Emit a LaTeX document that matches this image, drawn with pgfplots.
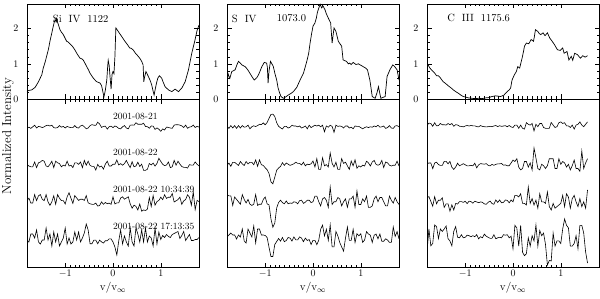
\documentclass[border=0pt]{standalone}
\usepackage{pgfplots}
\pgfplotsset{compat=1.18}
\usepackage{pgfplotstable}

\pgfplotstableread{
x a b c d
-1.80 -1.4 -0.4 0.4 -3
-1.76 -0.2 -2.0 2.8 -5
-1.72 -1.4 -2.8 -2.0 3
-1.68 0.2 -2.8 -2.0 3
-1.64 1.8 2.0 6.4 -1
-1.60 -1.0 -3.6 0.4 7
-1.56 0.6 1.2 5.2 -5
-1.52 0.2 2.0 6.4 -7
-1.48 -0.6 3.6 1.6 -3
-1.44 0.2 2.8 0.4 -3
-1.40 1.4 -2.0 6.4 9
-1.36 1.8 -2.8 -0.8 -3
-1.32 1.0 -0.4 -4.4 3
-1.28 1.8 2.8 -0.8 -9
-1.24 -0.6 -3.6 5.2 5
-1.20 -1.0 2.8 -3.2 -5
-1.16 -0.6 1.2 6.4 3
-1.12 1.4 0.4 2.8 -9
-1.08 -0.2 -2.8 0.4 -5
-1.04 0.6 -1.2 0.4 -1
-1.00 -1.0 -2.0 -3.0 9
-0.96 0.6 2.8 4.2 -7
-0.92 -0.2 -2.0 8.2 -1
-0.88 -0.6 -1.2 2.8 -7
-0.84 -0.6 -3.6 -2.4 -5
-0.80 1.4 1.2 5.4 5
-0.76 -0.6 1.2 3.0 -3
-0.72 -1.0 -0.4 0.6 5
-0.68 1.0 2.0 1.8 -5
-0.64 1.8 -3.6 1.8 -1
-0.60 0.2 3.6 0.6 4
-0.56 -1.8 -1.2 5.4 13
-0.52 -1.0 2.8 -1.8 7
-0.48 1.4 -1.4 -2.8 -6.7
-0.44 2.4 -2.4 -3.3 -6.7
-0.40 1.8 -2.3 -3.3 -3.1
-0.36 1.6 -6.0 -2.1 -3.1
-0.32 4.8 -0.4 -5.1 -6.7
-0.28 3.0 -3.1 -4.5 -3.1
-0.24 -0.4 -2.1 -0.9 -4.9
-0.20 0.6 -5.1 -3.3 -6.1
-0.16 0.8 -0.1 -1.5 -3.7
-0.12 -2.1 2.8 -2.7 -3.7
-0.08 0.3 -2.0 -2.1 -1.9
-0.04 0.8 -2.0 -3.3 -1.9
0.00 -0.6 -0.2 4.2 -5
0.04 1.0 -0.3 -3.0 -10
0.08 0.2 4.0 -1.8 -18
0.12 -1.4 -1.0 -1.8 -4
0.16 -1.8 0.4 3.0 7
0.20 0.2 -1.2 4.2 -7
0.24 1.4 0.4 1.8 1
0.28 -1.0 3.6 3.0 -5
0.32 -1.8 -0.4 4.2 -9
0.36 1.8 -3.6 -2.8 9
0.40 2.0 2.3 -7.2 -5
0.44 1.8 -2.8 -4.2 -9
0.48 4.3 -2.0 -5.4 9
0.52 2.8 1.8 -9.0 3
0.56 2.8 -2.4 -3.0 -5
0.60 2.7 -0.2 -10.2 7
0.64 3.8 -6.3 -9.0 -5
0.68 0.5 -6.3 -9.5 9
0.72 0.4 -5.3 -8.2 -5
0.76 -1.3 0.5 3.4 1
0.80 1.0 -0.9 -5.4 -1
0.84 0.9 0.9 5.4 -9
0.88 -2.4 -2.1 -4.2 9
0.92 -0.9 0.5 -0.6 -7
0.96 -2.2 5.8 0.6 5
1.00 -4.3 2.6 3.8 -2.5
1.04 -1.9 -0.3 1.4 1.5
1.08 -3.0 -1.6 6.2 -0.5
1.12 -0.1 -1.0 2.6 2.5
1.16 -0.4 2.0 3.8 0.5
1.20 -1.0 -3.6 3.8 -0.5
1.24 -1.3 -2.8 7.4 2.5
1.28 1.9 3.6 -1.0 3.5
1.32 2.3 -1.2 0.2 4.5
1.36 2.3 2.8 1.4 5.5
1.40 1.9 -0.1 3.8 -1.5
1.44 1.1 -2.5 -3.4 1.5
1.48 -0.5 -3.3 0.2 5.5
1.52 1.9 -3.3 1.4 -3.5
1.56 -1.3 -4.1 6.2 -0.5
1.60 -0.1 -0.6 3.8 2.5
1.64 0.3 -1.1 -4.2 -3.5
1.68 1.9 -1.1 9 -3.5
1.72 -0.5 2.1 -8.6 -2.5
1.76 0.7 -0.3 0.6 -2.5
1.80 -0.1 -1.9 -0.6 -0.5
}\siivres

\pgfplotstableread{
x a b c d
-1.80 1.0 -1.5 6.4 0
-1.76 -1.4 0.9 5.2 2
-1.72 1.4 -2.3 5.2 4
-1.68 -1.0 1.7 -4.4 2
-1.64 1.4 1.7 4.0 2
-1.60 -1.4 0.1 1.6 -2
-1.56 1.4 -1.5 -0.8 2
-1.52 -1.0 2.5 -3.2 0
-1.48 1.4 0.1 6.4 8
-1.44 -0.2 -1.5 1.6 -4
-1.40 0.2 2.5 -2.0 -6
-1.36 1.8 0.1 1.6 8
-1.32 -1.8 1.7 -3.2 4
-1.28 0.3 1.7 -4.4 0
-1.24 1.2 -0.7 -3.2 11
-1.20 0.5 4.1 6.4 -6
-1.16 1.4 -2.3 -4.4 8
-1.12 2.7 4.1 -3.2 8
-1.08 2.4 -0.7 -3.2 2
-1.04 4.1 -1.5 1.6 2
-1.00 2.2 -3.8 4.0 1.5
-0.96 4.5 -5.8 -2.9 -0.5
-0.92 8.7 -9.6 -3.9 -10.5
-0.88 12.5 -17.8 -17.9 -19.5
-0.84 12.9 -19.8 -26.3 -19.5
-0.80 10.5 -13.2 -22.1 -7.5
-0.76 4.3 -6.2 -6.9 -4.5
-0.72 0.7 -4.0 -1.5 -1.5
-0.68 -0.8 -2.4 0.8 -4.1
-0.64 -2.0 1.4 -1.6 -0.5
-0.60 0.6 -1.4 -2.8 -4.7
-0.56 0.6 1.0 0.0 -3.5
-0.52 -1.0 -0.2 -2.8 -0.5
-0.48 -0.2 -1.4 -2.0 -1.1
-0.44 1.8 -0.6 -2.4 -4.1
-0.40 1.0 0.2 -0.8 0.1
-0.36 1.0 1.8 -1.2 -2.9
-0.32 0.2 0.6 -2.8 -2.9
-0.28 1.0 0.6 0.4 0.1
-0.24 -1.0 -1.0 0.8 -1.1
-0.20 -0.2 1.8 -2.4 -4.7
-0.16 1.0 -1.8 -1.2 -1.1
-0.12 -1.8 -0.2 0.8 -3.5
-0.08 1.8 -0.6 0.8 -2.5
-0.04 -0.6 0.2 -1.6 -7.5
0.00 0.6 3.0 -0.7 -3.3
0.04 1.8 -3.0 4.9 -3.3
0.08 1.0 5.4 4.9 -7.7
0.12 1.8 -5.4 -0.7 -3.3
0.16 0.2 -5.4 -4.9 7.7
0.20 1.8 6.2 2.1 11.9
0.24 -4.8 -1.8 3.5 1.1
0.28 1.0 -0.6 0.7 7.7
0.32 -0.2 -3.0 -6.3 -3.3
0.36 1.8 11 14 12
0.40 0.6 0.6 -3.5 -9.9
0.44 -5.4 -3.0 -0.7 -9.9
0.48 1.8 1.8 -0.7 5.5
0.52 0.6 -5.4 3.5 1.1
0.56 1.0 -5.4 2.1 -5.5
0.60 0.6 5.4 -4.9 -9.9
0.64 -1.0 0.6 -0.7 -14.1
0.68 1.0 1.8 2.1 -1.1
0.72 1.0 -1.8 -6.3 9.9
0.76 -1.0 -5.4 2.1 -3.3
0.80 -0.2 3.0 2.1 -3.3
0.84 -1.8 -1.8 4.9 7.7
0.88 1.0 4.2 -6.3 -5.5
0.92 0.6 -4.2 10 3.3
0.96 0.6 -1.8 -3.5 1.1
1.00 -0.6 -3.0 -3.5 3.3
1.04 -1.8 -1.2 2.1 -5.4
1.08 -0.6 -2.0 -0.7 -3.0
1.12 0.2 2.8 4.9 5.4
1.16 -0.6 1.2 -6.3 3.0
1.20 0.2 -2.0 -6.3 1.8
1.24 -0.2 2.0 -4.9 -5.4
1.28 1.0 3.6 2.1 1.8
1.32 0.2 -0.4 4.9 3.0
1.36 1.8 -1.2 -0.7 -1.8
1.40 -0.2 -0.4 3.5 3.0
1.44 0.2 3.6 3.5 -4.2
1.48 1.0 -3.6 -0.7 -4.2
1.52 -1.4 2.0 -4.9 -1.8
1.56 -0.6 1.2 -4.9 -3.0
1.60 1.4 -1.2 4.9 -5.4
1.64 -1.0 -2.0 0.7 -5.4
1.68 -1.4 -1.2 -2.1 10
1.72 1.0 -1.2 3.5 0.6
1.76 1.4 2.8 -0.7 5.4
1.80 0.2 -2.0 -3.5 -1.8
}\sivres

\pgfplotstableread{
x a b c d
-1.80 1.5 0.2 3.2 -15
-1.76 3.9 1.0 4.4 8.0
-1.72 3.5 1.0 -0.4 -8.8
-1.68 0.7 -4.6 -5.2 -6.4
-1.64 4.3 1.0 4.4 12
-1.60 1.1 1.8 -2.8 10.4
-1.56 1.5 -0.6 0.8 -1.6
-1.52 3.5 -1.4 0.8 8.0
-1.48 2.3 -1.4 3.2 5.6
-1.44 2.3 2.6 -6.4 8.0
-1.40 1.9 2.6 -2.8 11
-1.36 3.5 0.2 -2.8 -1.6
-1.32 2.3 2.6 -10.2 -4.0
-1.28 3.5 -3.2 -3.8 -8.8
-1.24 0.7 -5.4 -9.0 5.6
-1.20 2.3 -3.0 -2.4 10.4
-1.16 2.0 0.8 -3.0 -0.3
-1.12 0.8 -1.8 -0.6 -0.8
-1.08 0.6 -0.8 -0.6 2.3
-1.04 0.1 0.3 -1.4 -0.8
-1.00 1.0 -0.8 -0.2 -0.3
-0.96 1.5 -1.8 -2.6 1.8
-0.92 1.0 -1.8 -0.2 1.3
-0.88 1.5 -1.3 -0.6 0.3
-0.84 1.2 -1.8 -2.2 1.3
-0.80 1.2 0.8 -0.2 0.3
-0.76 0.4 -3.8 -0.9 2.3
-0.72 0.1 -0.9 -1.7 -1.8
-0.68 1.5 0.4 -0.9 0.3
-0.64 0.6 0.1 -1.3 -0.8
-0.60 0.3 -0.2 -2.9 2.8
-0.56 0.1 0.4 -3.3 0.8
-0.52 0.3 -1.3 -1.3 -0.3
-0.48 0.7 -1.9 -0.1 -1.3
-0.44 0.3 -0.4 -2.5 -1.3
-0.40 1.0 -1.3 -3.3 2.3
-0.36 1.5 -0.4 1.0 -1.8
-0.32 0.4 0.2 -1.4 -0.8
-0.28 1.3 0.2 1.0 -0.3
-0.24 0.6 0.5 -1.8 -0.8
-0.20 1.0 -1.2 -1.4 2.3
-0.16 1.3 -0.9 1.0 1.8
-0.12 0.3 -1.7 0.6 2.3
-0.08 1.5 -1.7 -1.8 -0.8
-0.04 0.1 1.0 1.0 0.8
0.00 -0.5 3.9 -0.8 -11.7
0.04 1.9 2.5 5.6 11.7
0.08 1.9 5.3 5.6 9.1
0.12 -1.3 -3.1 4.0 -9.1
0.16 1.9 -5.9 7.2 11.7
0.20 -1.3 -4.5 -2.4 -15.3
0.24 -2.1 2.5 -2.4 -18.7
0.28 4.3 2.5 -4.0 -16.7
0.32 2.7 -3.1 14 -0.9
0.36 1.9 1.1 -2.4 -9.1
0.40 3.5 -5.9 2.4 1.3
0.44 -3.9 16 -4.0 -3.9
0.48 2.7 6 0.8 12
0.52 0.3 -4.5 -7.2 -9.1
0.56 3.5 -5.9 7.2 6.5
0.60 3.5 -0.3 -0.8 1.3
0.64 -0.5 -1.7 -0.8 3.9
0.68 -1.3 -4.5 -2.4 -7.5
0.72 -1.3 -1.7 9 -28
0.76 -1.3 5.3 -5.6 -23.5
0.80 4.5 5.3 -9 -23.9
0.84 1.9 5.3 -2.4 3.9
0.88 -0.5 -4.5 -7.2 -9.1
0.92 0.3 -4.5 -5.6 -3.9
0.96 4.3 5.3 -4.0 -3.9
1.00 5.1 -0.3 -2.4 -6.5
1.04 3.5 2.5 5.6 8
1.08 4.3 1.1 -5.6 18
1.12 1.1 -3.1 7.2 11.7
1.16 1.1 -0.3 4.0 9.1
1.20 -0.5 -5.9 -7.2 -9.1
1.24 1.9 -1.7 2.4 -9.1
1.28 -2.1 3.9 5.6 -6.5
1.32 1.9 -4.5 -0.8 1.3
1.36 2.7 -4.5 -5.6 -11.7
1.40 5.1 -7.3 2.4 11.7
1.44 1.9 13 -5.6 11.7
1.48 0.3 -4.5 -0.8 3.9
1.52 2.7 1.1 -7.2 -15
1.56 5.1 5.3 11 -26
}\ciiires

\pgfplotsset{
  base/.style={scale only axis, width=172pt, xmin=-1.8, xmax=1.8,
    xtick={-1,0,1}, minor x tick num=9,
    tick align=inside, major tick length=4.5pt, minor tick length=2.5pt,
    tick style={black, line width=0.5pt},
    axis line style={line width=0.7pt},
    tick label style={font=\fontsize{10}{12}\selectfont},
    clip mode=individual},
  toppanel/.style={base, height=95pt, ymin=0, ymax=2.7, ytick={0,1,2},
    minor y tick num=4, xticklabels={}, yticklabel style={xshift=-5pt}},
  botpanel/.style={base, height=168pt, ymin=0, ymax=168, ytick=\empty},
  spec/.style={black, line width=0.7pt, no markers},
  res/.style={black, line width=0.6pt, no markers},
}

\begin{document}
\begin{tikzpicture}[x=1pt,y=1pt]
\useasboundingbox (0,0) rectangle (600,298);

% ---------- Si IV ----------
\begin{axis}[toppanel, at={(27pt,199pt)}, anchor=south west]
\addplot[spec] coordinates {(-1.80,0.22) (-1.77,0.24) (-1.70,0.26) (-1.63,0.33) (-1.56,0.49) (-1.49,0.69) (-1.46,0.88) (-1.42,1.05) (-1.39,1.21) (-1.35,1.42) (-1.32,1.64) (-1.28,1.88) (-1.25,2.07) (-1.23,2.18) (-1.21,2.26) (-1.19,2.20) (-1.18,2.28) (-1.16,2.18) (-1.14,2.10) (-1.11,1.97) (-1.08,1.90) (-1.04,1.83) (-1.00,1.72) (-0.97,1.64) (-0.94,1.62) (-0.90,1.57) (-0.85,1.50) (-0.80,1.40) (-0.75,1.28) (-0.72,1.22) (-0.69,1.16) (-0.65,1.14) (-0.62,1.10) (-0.58,1.00) (-0.55,0.92) (-0.51,0.82) (-0.48,0.73) (-0.44,0.65) (-0.41,0.59) (-0.37,0.53) (-0.34,0.49) (-0.30,0.47) (-0.27,0.45) (-0.24,0.38) (-0.22,0.26) (-0.19,0.06) (-0.16,0.25) (-0.13,0.54) (-0.11,0.95) (-0.10,1.10) (-0.08,0.95) (-0.06,0.6) (-0.04,0.28) (-0.02,0.70) (0.00,0.78) (0.02,0.72) (0.04,1.2) (0.06,2.02) (0.09,1.96) (0.11,1.92) (0.15,1.84) (0.18,1.78) (0.22,1.70) (0.25,1.64) (0.30,1.55) (0.35,1.45) (0.38,1.44) (0.42,1.40) (0.47,1.30) (0.53,1.21) (0.57,1.14) (0.60,1.07) (0.63,0.97) (0.645,0.49) (0.66,0.62) (0.69,0.78) (0.74,0.64) (0.78,0.52) (0.81,0.40) (0.84,0.22) (0.86,0.11) (0.88,0.25) (0.91,0.45) (0.94,0.60) (0.97,0.66) (1.02,0.59) (1.05,0.48) (1.09,0.35) (1.16,0.26) (1.23,0.21) (1.30,0.28) (1.37,0.21) (1.44,0.31) (1.51,0.49) (1.58,0.83) (1.65,1.31) (1.71,1.64) (1.76,1.95) (1.80,2.10)};
\node[anchor=west, inner sep=0pt, font=\fontsize{10.5}{12}\selectfont] at (axis cs:-1.26,2.29) {Si\ \ IV\ \ 1122};
\end{axis}
\begin{axis}[botpanel, at={(27pt,31pt)}, anchor=south west]
\addplot[res] table[x=x, y expr=\thisrow{a}+140] {\siivres};
\addplot[res] table[x=x, y expr=\thisrow{b}+103] {\siivres};
\addplot[res] table[x=x, y expr=\thisrow{c}+66] {\siivres};
\addplot[res] table[x=x, y expr=\thisrow{d}+30] {\siivres};
\begin{scope}[every node/.style={anchor=west, inner sep=0pt, font=\fontsize{9.5}{10}\selectfont}]
\node at (axis cs:0.0,151) {2001-08-21};
\node at (axis cs:0.0,115) {2001-08-22};
\node at (axis cs:0.0,78) {2001-08-22 10:34:39};
\node at (axis cs:0.0,41) {2001-08-22 17:13:35};
\end{scope}
\end{axis}

% ---------- S IV ----------
\begin{axis}[toppanel, at={(227pt,199pt)}, anchor=south west]
\addplot[spec] coordinates {(-1.80,0.31) (-1.78,0.73) (-1.76,0.65) (-1.74,0.59) (-1.70,0.78) (-1.63,0.83) (-1.59,0.98) (-1.56,1.07) (-1.52,1.02) (-1.49,0.97) (-1.42,0.92) (-1.37,0.84) (-1.32,0.73) (-1.27,0.62) (-1.23,0.54) (-1.18,0.60) (-1.14,0.69) (-1.10,0.82) (-1.07,0.92) (-1.02,1.04) (-0.97,1.02) (-0.955,0.90) (-0.94,0.45) (-0.92,0.80) (-0.89,1.07) (-0.86,1.00) (-0.83,0.92) (-0.80,0.74) (-0.76,0.54) (-0.73,0.31) (-0.70,0.18) (-0.67,0.07) (-0.62,0.02) (-0.57,0.06) (-0.52,0.11) (-0.46,0.16) (-0.41,0.21) (-0.34,0.33) (-0.27,0.54) (-0.20,0.73) (-0.13,1.07) (-0.09,1.30) (-0.06,1.60) (-0.03,1.85) (0.00,2.07) (0.04,2.16) (0.07,2.30) (0.09,2.45) (0.12,2.58) (0.15,2.69) (0.18,2.59) (0.21,2.64) (0.25,2.54) (0.28,2.42) (0.32,2.30) (0.37,2.16) (0.40,1.59) (0.44,2.02) (0.48,1.92) (0.53,1.64) (0.56,1.58) (0.60,1.50) (0.63,1.11) (0.70,1.07) (0.74,1.00) (0.77,1.02) (0.80,0.98) (0.84,1.04) (0.90,0.98) (0.95,1.00) (1.00,0.96) (1.05,0.92) (1.10,0.88) (1.14,0.83) (1.19,0.54) (1.24,0.07) (1.30,0.02) (1.34,0.18) (1.37,0.35) (1.40,0.15) (1.42,0.02) (1.51,0.07) (1.55,0.64) (1.61,0.83) (1.67,0.97) (1.71,0.92) (1.76,0.83) (1.80,0.54)};
\node[anchor=west, inner sep=0pt, font=\fontsize{10.5}{12}\selectfont] at (axis cs:-1.70,2.29) {S\ \ IV};
\node[anchor=west, inner sep=0pt, font=\fontsize{10.5}{12}\selectfont] at (axis cs:-0.76,2.29) {1073.0};
\end{axis}
\begin{axis}[botpanel, at={(227pt,31pt)}, anchor=south west]
\addplot[res] table[x=x, y expr=\thisrow{a}+140] {\sivres};
\addplot[res] table[x=x, y expr=\thisrow{b}+103] {\sivres};
\addplot[res] table[x=x, y expr=\thisrow{c}+66] {\sivres};
\addplot[res] table[x=x, y expr=\thisrow{d}+30] {\sivres};
\end{axis}

% ---------- C III ----------
\begin{axis}[toppanel, at={(427pt,199pt)}, anchor=south west]
\addplot[spec] coordinates {(-1.80,1.04) (-1.77,0.95) (-1.74,0.88) (-1.70,0.82) (-1.67,0.78) (-1.63,0.72) (-1.60,0.66) (-1.56,0.66) (-1.53,0.62) (-1.50,0.56) (-1.46,0.49) (-1.41,0.44) (-1.35,0.37) (-1.30,0.32) (-1.25,0.26) (-1.20,0.21) (-1.14,0.16) (-1.09,0.11) (-1.04,0.07) (-0.98,0.05) (-0.93,0.03) (-0.86,0.02) (-0.79,0.01) (-0.72,0.02) (-0.65,0.01) (-0.58,0.03) (-0.51,0.04) (-0.44,0.07) (-0.37,0.09) (-0.31,0.08) (-0.26,0.07) (-0.19,0.11) (-0.15,0.17) (-0.12,0.21) (-0.08,0.26) (-0.05,0.31) (-0.02,0.54) (0.00,0.60) (0.03,0.69) (0.07,0.78) (0.10,0.92) (0.14,0.88) (0.17,1.05) (0.19,1.16) (0.22,1.35) (0.24,1.50) (0.28,1.59) (0.33,1.57) (0.38,1.69) (0.43,1.64) (0.45,1.80) (0.47,1.97) (0.52,1.92) (0.55,1.86) (0.58,1.83) (0.63,1.88) (0.67,1.80) (0.72,1.88) (0.77,1.73) (0.82,1.64) (0.87,1.54) (0.90,1.47) (0.93,1.40) (0.99,1.38) (1.04,1.45) (1.07,1.30) (1.13,1.35) (1.17,1.11) (1.22,1.21) (1.25,1.10) (1.29,1.30) (1.35,1.26) (1.41,1.16) (1.46,1.23) (1.51,1.19) (1.56,1.23)};
\node[anchor=west, inner sep=0pt, font=\fontsize{10.5}{12}\selectfont] at (axis cs:-1.38,2.31) {C\ \ III\ \ 1175.6};
\end{axis}
\begin{axis}[botpanel, at={(427pt,31pt)}, anchor=south west]
\addplot[res] table[x=x, y expr=\thisrow{a}+140] {\ciiires};
\addplot[res] table[x=x, y expr=\thisrow{b}+103] {\ciiires};
\addplot[res] table[x=x, y expr=\thisrow{c}+66] {\ciiires};
\addplot[res] table[x=x, y expr=\thisrow{d}+30] {\ciiires};
\end{axis}

% ---------- labels ----------
\node[rotate=90, font=\fontsize{13}{15}\selectfont] at (8,162) {Normalized Intensity};
\node[font=\fontsize{11}{13}\selectfont] at (113,10) {$\mathrm{v}/\mathrm{v}_\infty$};
\node[font=\fontsize{11}{13}\selectfont] at (313,10) {$\mathrm{v}/\mathrm{v}_\infty$};
\node[font=\fontsize{11}{13}\selectfont] at (513,10) {$\mathrm{v}/\mathrm{v}_\infty$};
\end{tikzpicture}
\end{document}
